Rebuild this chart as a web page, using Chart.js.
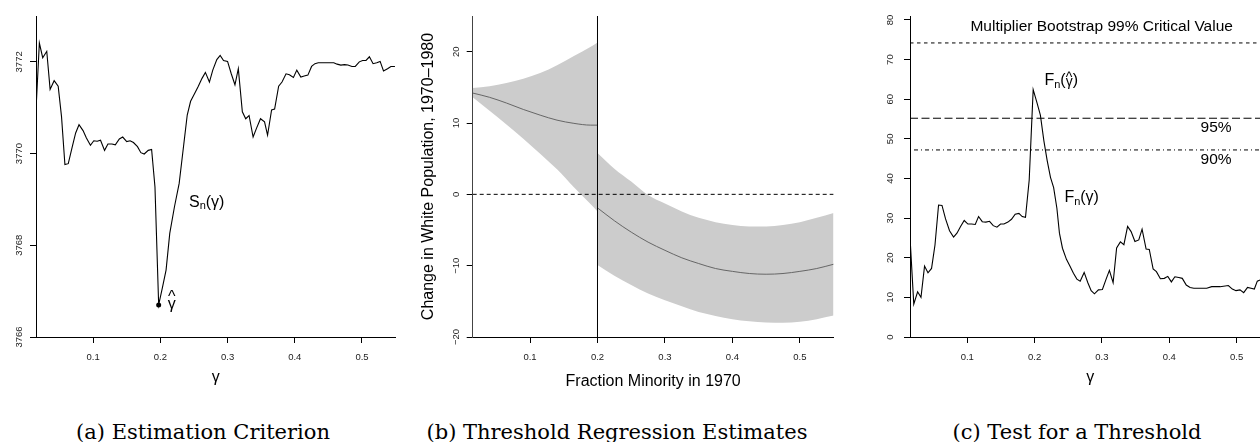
<!DOCTYPE html>
<html>
<head>
<meta charset="utf-8">
<script src="https://cdn.jsdelivr.net/npm/chart.js@4.4.1/dist/chart.umd.min.js"></script>
<style>
  html, body { margin: 0; padding: 0; background: #fff; }
  body { position: relative; width: 1260px; height: 442px; overflow: hidden; }
  .panel { position: absolute; top: 0; height: 400px; }
  .caption {
    position: absolute; top: 422px; width: 420px; text-align: center;
    font-family: "DejaVu Serif", serif; font-size: 21px; line-height: 21px;
    color: #000; white-space: nowrap;
  }
</style>
</head>
<body>
<div class="panel" style="left:0;width:410px"><canvas id="critChart"></canvas></div>
<div class="panel" style="left:410px;width:440px"><canvas id="estChart"></canvas></div>
<div class="panel" style="left:850px;width:440px"><canvas id="testChart"></canvas></div>
<div class="caption" style="left:-7px">(a) Estimation Criterion</div>
<div class="caption" style="left:407px">(b) Threshold Regression Estimates</div>
<div class="caption" style="left:867px">(c) Test for a Threshold</div>

<script>
const X_MIN = 0.015;
const X_MAX = 0.55;
const gammaTicks = [0.1, 0.2, 0.3, 0.4, 0.5];

// (a) estimation criterion S_n(gamma)
const critTicks = [3766, 3768, 3770, 3772];
const critGamma = [
  0.015, 0.020, 0.025, 0.031, 0.036, 0.042, 0.048, 0.053, 0.058, 0.063,
  0.069, 0.074, 0.079, 0.085, 0.090, 0.096, 0.101, 0.106, 0.111, 0.117,
  0.122, 0.128, 0.133, 0.139, 0.144, 0.150, 0.155, 0.160, 0.166, 0.171,
  0.176, 0.182, 0.187, 0.192, 0.1975, 0.203, 0.2085, 0.214, 0.221, 0.228,
  0.235, 0.240, 0.245, 0.251, 0.2565, 0.262, 0.267, 0.273, 0.278, 0.284,
  0.289, 0.294, 0.300, 0.3055, 0.311, 0.316, 0.322, 0.327, 0.332, 0.338,
  0.343, 0.349, 0.355, 0.3595, 0.3655, 0.370, 0.376, 0.381, 0.387, 0.392,
  0.398, 0.403, 0.409, 0.414, 0.4195, 0.425, 0.430, 0.435, 0.441, 0.452,
  0.458, 0.463, 0.4685, 0.474, 0.479, 0.485, 0.490, 0.496, 0.501, 0.506,
  0.511, 0.5165, 0.522, 0.527, 0.532, 0.538, 0.543, 0.549
];
const critValue = [
  3770.95, 3772.41, 3772.09, 3772.23, 3771.40, 3771.59, 3771.47, 3770.80, 3769.76, 3769.78,
  3770.15, 3770.45, 3770.63, 3770.50, 3770.34, 3770.18, 3770.28, 3770.27, 3770.29, 3770.07,
  3770.21, 3770.21, 3770.19, 3770.32, 3770.36, 3770.26, 3770.28, 3770.24, 3770.15, 3770.02,
  3769.99, 3770.07, 3770.09, 3769.27, 3766.70, 3767.07, 3767.46, 3768.26, 3768.84, 3769.35,
  3770.22, 3770.84, 3771.14, 3771.31, 3771.47, 3771.64, 3771.77, 3771.56, 3771.82, 3772.05,
  3772.14, 3772.03, 3772.01, 3771.74, 3771.50, 3771.85, 3770.91, 3770.76, 3770.83, 3770.36,
  3770.55, 3770.76, 3770.69, 3770.40, 3770.95, 3770.97, 3771.47, 3771.56, 3771.74, 3771.72,
  3771.66, 3771.82, 3771.67, 3771.69, 3771.71, 3771.90, 3771.96, 3771.98, 3771.98, 3771.98,
  3771.98, 3771.95, 3771.93, 3771.94, 3771.93, 3771.90, 3771.90, 3772.00, 3772.03, 3772.03,
  3772.11, 3771.96, 3771.98, 3772.01, 3771.80, 3771.85, 3771.90, 3771.90
];
const gammaHat = 0.1975;
const critMin = 3766.70;

// (b) threshold regression estimates, below and above the threshold
const estTicks = [-20, -10, 0, 10, 20];
const gammaLow = [0.015, 0.04, 0.065, 0.09, 0.115, 0.14, 0.165, 0.19, 0.2];
const upperLow = [14.9, 15.15, 15.6, 16.2, 17.0, 18.1, 19.4, 20.7, 21.3];
const fitLow = [14.2, 13.6, 12.8, 11.9, 11.1, 10.4, 9.95, 9.7, 9.7];
const lowerLow = [13.6, 11.7, 9.8, 7.8, 5.7, 3.5, 1.0, -1.4, -2.4];
const gammaHigh = [0.2, 0.225, 0.25, 0.275, 0.3, 0.325, 0.35, 0.375, 0.4, 0.425, 0.45, 0.475, 0.5, 0.525, 0.55];
const upperHigh = [5.8, 3.6, 1.8, -0.1, -1.3, -2.4, -3.3, -3.9, -4.3, -4.5, -4.5, -4.3, -3.9, -3.3, -2.6];
const fitHigh = [-1.9, -3.7, -5.3, -6.7, -7.85, -8.9, -9.7, -10.4, -10.8, -11.1, -11.2, -11.1, -10.8, -10.4, -9.8];
const lowerHigh = [-9.9, -11.4, -12.7, -13.9, -14.85, -15.7, -16.5, -17.05, -17.5, -17.8, -17.95, -18.0, -17.85, -17.5, -17.0];
const threshold = 0.2;

// (c) test statistic F_n(gamma) and bootstrap critical values
const testTicks = [0, 10, 20, 30, 40, 50, 60, 70, 80];
const testGamma = [
  0.0154, 0.0206, 0.0263, 0.0313, 0.0366, 0.0417, 0.0470, 0.0521, 0.0574, 0.0625,
  0.0678, 0.0737, 0.0797, 0.0847, 0.0901, 0.0955, 0.1010, 0.1064, 0.1119, 0.1168,
  0.1223, 0.1277, 0.1331, 0.1386, 0.1441, 0.1494, 0.1545, 0.1604, 0.1657, 0.1712,
  0.1767, 0.1816, 0.1865, 0.1920, 0.1979, 0.2034, 0.2086, 0.2138, 0.2187, 0.2236,
  0.2283, 0.2331, 0.2369, 0.2414, 0.2473, 0.2528, 0.2577, 0.2628, 0.2677, 0.2736,
  0.2791, 0.2840, 0.2889, 0.2948, 0.3007, 0.3062, 0.3111, 0.3166, 0.3218, 0.3274,
  0.3326, 0.3381, 0.3433, 0.3490, 0.3547, 0.3596, 0.3656, 0.3703, 0.3760, 0.3809,
  0.3868, 0.3926, 0.3978, 0.4031, 0.4083, 0.4141, 0.4193, 0.4252, 0.4309, 0.4365,
  0.4556, 0.4630, 0.4754, 0.4877, 0.4936, 0.4991, 0.5050, 0.5105, 0.5162, 0.5214,
  0.5263, 0.5307, 0.5347
];
const testValue = [
  24.0, 8.3, 11.4, 10.0, 17.9, 16.2, 17.3, 23.2, 33.3, 33.2,
  29.8, 26.8, 25.2, 26.2, 27.9, 29.4, 28.5, 28.5, 28.4, 30.4,
  29.1, 29.0, 29.2, 28.1, 27.7, 28.5, 28.5, 29.0, 29.7, 31.0,
  31.2, 30.4, 30.2, 39.6, 62.4, 59.2, 56.0, 49.5, 44.5, 40.3,
  37.7, 32.5, 26.2, 22.4, 19.6, 17.8, 16.1, 14.6, 14.1, 16.3,
  13.7, 11.7, 10.9, 11.9, 12.0, 14.6, 16.8, 13.7, 22.5, 24.0,
  23.3, 27.9, 26.6, 24.1, 24.5, 27.2, 22.2, 22.1, 17.2, 16.5,
  14.7, 14.8, 15.3, 13.9, 15.2, 15.0, 14.8, 13.1, 12.5, 12.3,
  12.3, 12.7, 12.7, 13.0, 12.1, 11.7, 11.9, 11.2, 12.5, 12.3,
  12.1, 14.1, 14.4
];
const cv99 = 74.2;
const cv95 = 55.2;
const cv90 = 47.2;

const SANS = '"Liberation Sans", Arial, sans-serif';
const tickFont = { family: SANS, size: 9.5 };
const titleFont = { family: SANS, size: 16 };

function pts(xs, ys) {
  return xs.map((x, i) => ({ x: x, y: ys[i] }));
}

function minusLabel(v) {
  return v < 0 ? "\u2212" + Math.abs(v) : String(v);
}

function buildScales(o) {
  return {
    x: {
      type: "linear",
      min: X_MIN,
      max: X_MAX,
      afterBuildTicks: s => { s.ticks = gammaTicks.map(v => ({ value: v })); },
      afterFit: s => { s.height = 63; },
      ticks: { font: tickFont, color: "#222", padding: 8.5, maxRotation: 0, autoSkip: false, callback: v => String(v) },
      grid: { drawOnChartArea: false, tickLength: 6, color: "#000" },
      border: { display: true, color: "#000", width: 1 },
      title: { display: true, text: o.xTitle, color: "#000", font: titleFont, padding: { top: 0, bottom: o.xTitlePad } }
    },
    y: {
      type: "linear",
      min: o.yMin,
      max: o.yMax,
      afterBuildTicks: s => { s.ticks = o.yTicks.map(v => ({ value: v })); },
      afterFit: s => { s.width = o.yWidth; },
      ticks: {
        font: tickFont, color: "#222", padding: o.yPad, minRotation: 90, maxRotation: 90,
        crossAlign: "center", autoSkip: false, callback: minusLabel
      },
      grid: { drawOnChartArea: false, tickLength: 6, color: "#000" },
      border: { display: true, color: o.yBorder || "#000", width: 1 },
      title: o.yTitle
        ? { display: true, text: o.yTitle, color: "#000", font: titleFont, padding: { top: o.yTitlePad, bottom: 0 } }
        : { display: false }
    }
  };
}

function baseOptions(scales, rightPad) {
  return {
    responsive: true,
    maintainAspectRatio: false,
    animation: false,
    events: [],
    layout: { padding: { top: 16, right: rightPad, bottom: 0, left: 0 } },
    plugins: { legend: { display: false }, tooltip: { enabled: false } },
    elements: { point: { radius: 0 } },
    scales: scales
  };
}

// draws a label made of pieces: [text, size, dy, hatDy]
function drawRich(ctx, cx, cy, parts) {
  ctx.save();
  ctx.textBaseline = "middle";
  ctx.textAlign = "left";
  ctx.fillStyle = "#000";
  let total = 0;
  const widths = parts.map(p => {
    ctx.font = p[1] + "px " + SANS;
    const w = ctx.measureText(p[0]).width;
    total += w;
    return w;
  });
  let x = cx - total / 2;
  parts.forEach((p, i) => {
    ctx.font = p[1] + "px " + SANS;
    ctx.fillText(p[0], x, cy + p[2]);
    if (p[3] !== undefined) {
      ctx.textAlign = "center";
      ctx.fillText("^", x + widths[i] / 2, cy + p[3]);
      ctx.textAlign = "left";
    }
    x += widths[i];
  });
  ctx.restore();
}

const critLabels = {
  id: "critLabels",
  afterDatasetsDraw(chart) {
    const { ctx, scales: { x, y } } = chart;
    drawRich(ctx, x.getPixelForValue(0.269), y.getPixelForValue(3768.94),
      [["S", 16, 0], ["n", 11, 4], ["(\u03b3)", 16, 0]]);
    drawRich(ctx, x.getPixelForValue(0.2171), y.getPixelForValue(3766.74),
      [["\u03b3", 16, 2, -5]]);
  }
};

const testLabels = {
  id: "testLabels",
  afterDatasetsDraw(chart) {
    const { ctx, scales: { x, y } } = chart;
    ctx.save();
    ctx.fillStyle = "#000";
    ctx.textAlign = "center";
    ctx.textBaseline = "middle";
    ctx.font = "15.5px " + SANS;
    ctx.fillText("Multiplier Bootstrap 99% Critical Value", x.getPixelForValue(0.2996), y.getPixelForValue(78.4));
    ctx.fillText("95%", x.getPixelForValue(0.4695), y.getPixelForValue(52.9));
    ctx.fillText("90%", x.getPixelForValue(0.4695), y.getPixelForValue(44.7));
    ctx.restore();
    drawRich(ctx, x.getPixelForValue(0.2395), y.getPixelForValue(64.6),
      [["F", 16, 0], ["n", 11, 4], ["(", 16, 0], ["\u03b3", 14, 1, -3], [")", 16, 0]]);
    drawRich(ctx, x.getPixelForValue(0.2699), y.getPixelForValue(35.1),
      [["F", 16, 0], ["n", 11, 4], ["(\u03b3)", 16, 0]]);
  }
};

new Chart(document.getElementById("critChart"), {
  type: "line",
  data: {
    datasets: [
      {
        data: [{ x: gammaHat, y: critMin }],
        showLine: false,
        pointRadius: 2.5,
        pointBackgroundColor: "#000",
        pointBorderWidth: 0
      },
      {
        data: pts(critGamma, critValue),
        borderColor: "#000",
        borderWidth: 1.1,
        fill: false
      }
    ]
  },
  options: baseOptions(buildScales({
    xTitle: "\u03b3", xTitlePad: 13,
    yMin: 3766, yMax: 3773, yTicks: critTicks, yWidth: 36, yPad: 0.5
  }), 14.4),
  plugins: [critLabels]
});

new Chart(document.getElementById("estChart"), {
  type: "line",
  data: {
    datasets: [
      {
        data: [{ x: threshold, y: -20 }, { x: threshold, y: 25 }],
        borderColor: "#000", borderWidth: 1, fill: false
      },
      {
        data: [{ x: X_MIN, y: 0 }, { x: X_MAX, y: 0 }],
        borderColor: "#000", borderWidth: 1, borderDash: [4, 3], fill: false
      },
      {
        data: pts(gammaLow, fitLow),
        borderColor: "#666", borderWidth: 1, cubicInterpolationMode: "monotone", fill: false
      },
      {
        data: pts(gammaHigh, fitHigh),
        borderColor: "#666", borderWidth: 1, cubicInterpolationMode: "monotone", fill: false
      },
      {
        data: pts(gammaLow, upperLow),
        borderWidth: 0, cubicInterpolationMode: "monotone",
        backgroundColor: "#cccccc", fill: "+1"
      },
      {
        data: pts(gammaLow, lowerLow),
        borderWidth: 0, cubicInterpolationMode: "monotone", fill: false
      },
      {
        data: pts(gammaHigh, upperHigh),
        borderWidth: 0, cubicInterpolationMode: "monotone",
        backgroundColor: "#cccccc", fill: "+1"
      },
      {
        data: pts(gammaHigh, lowerHigh),
        borderWidth: 0, cubicInterpolationMode: "monotone", fill: false
      }
    ]
  },
  options: baseOptions(buildScales({
    xTitle: "Fraction Minority in 1970", xTitlePad: 9,
    yMin: -20, yMax: 25, yTicks: estTicks, yWidth: 62.7, yPad: 1.8,
    yTitle: "Change in White Population, 1970\u20131980", yTitlePad: 8.7, yBorder: "#444"
  }), 16.4)
});

new Chart(document.getElementById("testChart"), {
  type: "line",
  data: {
    datasets: [
      {
        data: pts(testGamma, testValue),
        borderColor: "#000", borderWidth: 1.1, fill: false
      },
      {
        data: [{ x: X_MIN, y: cv99 }, { x: X_MAX, y: cv99 }],
        borderColor: "#000", borderWidth: 1, borderDash: [3.5, 3.5], fill: false
      },
      {
        data: [{ x: X_MIN, y: cv95 }, { x: X_MAX, y: cv95 }],
        borderColor: "#000", borderWidth: 1, borderDash: [8, 3.5], fill: false
      },
      {
        data: [{ x: X_MIN, y: cv90 }, { x: X_MAX, y: cv90 }],
        borderColor: "#000", borderWidth: 1, borderDash: [1, 3, 4, 3], fill: false
      }
    ]
  },
  options: baseOptions(buildScales({
    xTitle: "\u03b3", xTitlePad: 13,
    yMin: 0, yMax: 81, yTicks: testTicks, yWidth: 60, yPad: 8.7
  }), 19.7),
  plugins: [testLabels]
});
</script>
</body>
</html>
